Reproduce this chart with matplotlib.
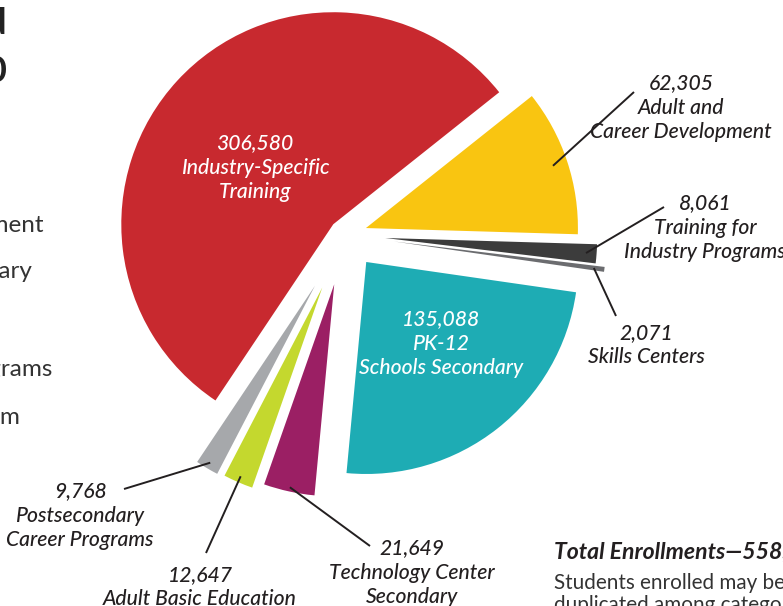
import matplotlib
matplotlib.use("Agg")
import matplotlib.pyplot as plt
import numpy as np

# ---------------- data ----------------
categories = ["Adult and Career Development", "Training for Industry Programs",
              "Skills Centers", "PK-12 Schools Secondary",
              "Technology Center Secondary", "Adult Basic Education",
              "Postsecondary Career Programs", "Industry-Specific Training"]
label_lines = ["Adult and\nCareer Development", "Training for\nIndustry Programs",
               "Skills Centers", "PK-12\nSchools Secondary",
               "Technology Center\nSecondary", "Adult Basic Education",
               "Postsecondary\nCareer Programs", "Industry-Specific\nTraining"]
enrollments = [62305, 8061, 2071, 135088, 21649, 12647, 9768, 306580]
colors = ["#F9C511", "#3C3C3C", "#6B6C6F", "#1EACB4",
          "#9B1F64", "#C4D82E", "#A6A8AB", "#C8292F"]
explode_frac = [0.104, 0.19, 0.234, 0.162, 0.238, 0.27, 0.278, 0.075]

total = sum(enrollments)

W, H = 783, 606
def Y(py):
    return H - py

fig = plt.figure(figsize=(W / 100, H / 100), dpi=100)
ax = fig.add_axes([0, 0, 1, 1])

R = 212
wedges, _ = ax.pie(enrollments, explode=[f * R for f in explode_frac],
                   colors=colors, startangle=38.5, counterclock=False,
                   center=(345, Y(235)), radius=R,
                   wedgeprops=dict(linewidth=0))
ax.set_xlim(0, W)
ax.set_ylim(0, H)
ax.set_aspect("equal")
ax.axis("off")

FAM = ["Lato", "DejaVu Sans"]
TXT = "#231F20"
FS = 15.2
LS = 1.28

def fmt(i):
    return f"{enrollments[i]:,}\n{label_lines[i]}"

# inside labels
ax.text(255, Y(168), fmt(7), ha="center", va="center", color="white",
        fontsize=FS, style="italic", weight="medium", family=FAM, linespacing=LS)
ax.text(441, Y(344), fmt(3), ha="center", va="center", color="white",
        fontsize=FS, style="italic", weight="medium", family=FAM, linespacing=LS)

# outside labels: (index, text center x, text center y, leader end x, y, radial frac)
outside = [
    (0, 681, 108, 634, 92, 0.93),
    (1, 705, 228, 664, 207, 0.95),
    (2, 646, 345, 616, 316, 0.95),
    (6, 80, 516, 124, 489, 0.97),
    (5, 200, 587, 206, 553, 0.97),
    (4, 412, 573, 370, 546, 0.98),
]
for i, tx, ty, ex, ey, fr in outside:
    w = wedges[i]
    mid = np.deg2rad((w.theta1 + w.theta2) / 2)
    sx = w.center[0] + fr * w.r * np.cos(mid)
    sy = w.center[1] + fr * w.r * np.sin(mid)
    ax.plot([sx, ex], [sy, Y(ey)], color=TXT, lw=1.4, solid_capstyle="butt")
    ax.text(tx, Y(ty), fmt(i), ha="center", va="center", color=TXT,
            fontsize=FS, style="italic", weight="medium", family=FAM,
            linespacing=LS)

# total note (cropped at right/bottom edge in the reference)
ax.text(554, Y(552), f"Total Enrollments\u2014{total:,}", ha="left", va="center",
        color=TXT, fontsize=16.6, style="italic", weight="bold", family=FAM)
ax.text(554, Y(594), "Students enrolled may be\nduplicated among categories.",
        ha="left", va="center", color="#333333", fontsize=14.9, family=FAM,
        linespacing=1.15)

# cropped fragments of the left-hand list and title
for txt, xr, yc in [("Development", 44, 226), ("Secondary", 32, 272),
                    ("Programs", 53, 370), ("Program", 21, 418)]:
    ax.text(xr, Y(yc), txt, ha="right", va="center", color="#333333",
            fontsize=17.5, family=FAM)
ax.text(6, Y(24), "d", ha="right", va="center", color="#222222",
        fontsize=26, weight="bold", family=FAM)
ax.text(6, Y(72), "0", ha="right", va="center", color="#222222",
        fontsize=26, weight="bold", family=FAM)

fig.savefig("out.png", dpi=100)
